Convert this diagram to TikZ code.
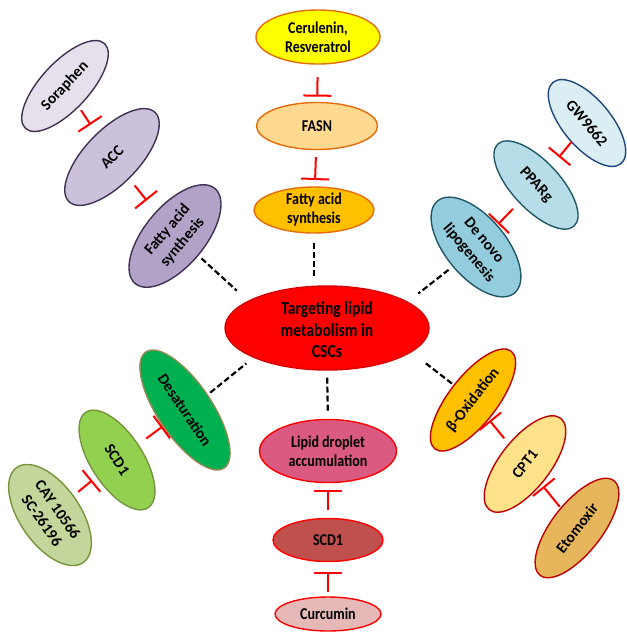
\documentclass[tikz,border=0pt]{standalone}
\usepackage{fontspec}
\usetikzlibrary{shapes.geometric,arrows.meta,calc}
\newfontfamily\hfont{Carlito}[FakeStretch=0.85]
\newfontfamily\rfont{Carlito}
\definecolor{cOrE}{HTML}{E46C0A}
\definecolor{cPurE}{HTML}{403152}
\definecolor{cBluE}{HTML}{1F497D}
\definecolor{cTealE}{HTML}{215968}
\definecolor{cOliE}{HTML}{948A54}
\definecolor{cGrnE}{HTML}{77933C}
\definecolor{cDRed}{HTML}{C00000}
\definecolor{fCer}{HTML}{FFFF00}
\definecolor{fFasn}{HTML}{FFD98F}
\definecolor{fFas}{HTML}{FFC000}
\definecolor{fCen}{HTML}{FF0000}
\definecolor{fSora}{HTML}{E6E0EC}
\definecolor{fAcc}{HTML}{CCC1DA}
\definecolor{fFas2}{HTML}{B3A2C7}
\definecolor{fGw}{HTML}{DBEEF4}
\definecolor{fPpar}{HTML}{B7DEE8}
\definecolor{fDen}{HTML}{93CDDD}
\definecolor{fDes}{HTML}{00B050}
\definecolor{fScdG}{HTML}{92D050}
\definecolor{fCay}{HTML}{C3D69B}
\definecolor{fLip}{HTML}{DA5A82}
\definecolor{fScdR}{HTML}{C0504D}
\definecolor{fCur}{HTML}{E6B9B8}
\definecolor{fBox}{HTML}{FFC000}
\definecolor{fCpt}{HTML}{FFE28A}
\definecolor{fEto}{HTML}{E6B65C}
\tikzset{
  oval/.style={ellipse, draw, line width=1.4pt, inner sep=0pt},
  hlbl/.style={align=center, inner sep=0pt, font=\hfont\bfseries\fontsize{16.5}{19}\selectfont},
  rlbl/.style={align=center, inner sep=0pt, font=\rfont\bfseries\fontsize{15.5}{19.5}\selectfont},
  inh/.style={draw=red, line width=2pt, -{Bar[width=28pt]}},
  dline/.style={draw=black, line width=2.2pt, dash pattern=on 6pt off 3pt},
}
\begin{document}
\begin{tikzpicture}[x=1pt,y=-1pt]
\useasboundingbox (0,0) rectangle (627,633);
% centre
\node[oval, fill=fCen, draw=red!85!black, minimum width=204pt, minimum height=84pt] (cen) at (327,328) {};
\node[hlbl, font=\hfont\bfseries\fontsize{18.4}{21.5}\selectfont] (cen-t) at (327,330) {Targeting lipid\\metabolism in\\CSCs};
% top column
\node[oval, fill=fCer, draw=cOrE, minimum width=124pt, minimum height=54pt] (cer) at (318,37) {};
\node[hlbl] (cer-t) at (cer) {Cerulenin,\\Resveratrol};
\node[oval, fill=fFasn, draw=cOrE, minimum width=121pt, minimum height=47pt] (fasn) at (317,126) {};
\node[hlbl] (fasn-t) at (fasn) {FASN};
\node[oval, fill=fFas, draw=cOrE, minimum width=120pt, minimum height=46pt] (fas1) at (314,210) {};
\node[hlbl] (fas1-t) at (fas1) {Fatty acid\\synthesis};
% top-left column
\node[oval, fill=fSora, draw=cPurE, minimum width=116pt, minimum height=48pt, rotate=47] (sora) at (65,86) {};
\node[rlbl, rotate=47] (sora-t) at (sora) {Soraphen};
\node[oval, fill=fAcc, draw=cPurE, minimum width=124pt, minimum height=54pt, rotate=46] (acc) at (112,157) {};
\node[rlbl, rotate=46] (acc-t) at (acc) {ACC};
\node[oval, fill=fFas2, draw=cPurE, minimum width=124pt, minimum height=60pt, rotate=50] (fas2) at (175,236) {};
\node[rlbl, rotate=50] (fas2-t) at (fas2) {Fatty acid\\synthesis};
% top-right column
\node[oval, fill=fGw, draw=cBluE, minimum width=106pt, minimum height=48pt, rotate=-50] (gw) at (587,123) {};
\node[rlbl, rotate=-50] (gw-t) at (gw) {GW9662};
\node[oval, fill=fPpar, draw=cTealE, minimum width=112pt, minimum height=48pt, rotate=-47] (ppar) at (536,185) {};
\node[rlbl, rotate=-47] (ppar-t) at (ppar) {PPARg};
\node[oval, fill=fDen, draw=cTealE, minimum width=120pt, minimum height=60pt, rotate=-50] (den) at (476,247) {};
\node[rlbl, rotate=-50] (den-t) at (den) {De novo\\lipogenesis};
% bottom-left column
\node[oval, fill=fDes, draw=cOliE, minimum width=140pt, minimum height=54pt, rotate=-56] (des) at (185,410) {};
\node[rlbl, rotate=-56] (des-t) at (des) {Desaturation};
\node[oval, fill=fScdG, draw=cGrnE, minimum width=114pt, minimum height=52pt, rotate=-57] (scdg) at (117,460) {};
\node[rlbl, rotate=-57] (scdg-t) at (scdg) {SCD1};
\node[oval, fill=fCay, draw=cGrnE, minimum width=116pt, minimum height=60pt, rotate=-55] (cay) at (50,515) {};
\node[rlbl, rotate=-55] (cay-t) at (cay) {CAY 10566\\SC-26196};
% bottom column
\node[oval, fill=fLip, draw=red, minimum width=137pt, minimum height=63pt] (lip) at (328,451) {};
\node[hlbl] (lip-t) at (lip) {Lipid droplet\\accumulation};
\node[oval, fill=fScdR, draw=red, minimum width=110pt, minimum height=43pt] (scdr) at (328,540) {};
\node[hlbl] (scdr-t) at (scdr) {SCD1};
\node[oval, fill=fCur, draw=red, minimum width=106pt, minimum height=34pt] (cur) at (328,614) {};
\node[hlbl] (cur-t) at (cur) {Curcumin};
% bottom-right column
\node[oval, fill=fBox, draw=cDRed, minimum width=124pt, minimum height=48pt, rotate=52] (box) at (473,400) {};
\node[rlbl, rotate=52] (box-t) at (box) {β-Oxidation};
\node[oval, fill=fCpt, draw=cDRed, minimum width=116pt, minimum height=50pt, rotate=52] (cpt) at (525,464) {};
\node[rlbl, rotate=52] (cpt-t) at (cpt) {CPT1};
\node[oval, fill=fEto, draw=cDRed, minimum width=120pt, minimum height=50pt, rotate=52] (eto) at (577,528) {};
\node[rlbl, rotate=52] (eto-t) at (eto) {Etomoxir};
% inhibitions
\draw[inh] ($(cer)!0.45!(fasn)$) -- ($(cer)!0.67!(fasn)$);
\draw[inh] ($(fasn)!0.37!(fas1)$) -- ($(fasn)!0.643!(fas1)$);
\draw[inh] ($(sora)!0.34!(acc)$) -- ($(sora)!0.545!(acc)$);
\draw[inh] ($(acc)!0.36!(fas2)$) -- ($(acc)!0.55!(fas2)$);
\draw[inh] ($(gw)!0.3!(ppar)$) -- ($(gw)!0.55!(ppar)$);
\draw[inh] ($(ppar)!0.385!(den)$) -- ($(ppar)!0.63!(den)$);
\draw[inh] ($(scdg)!0.43!(des)$) -- ($(scdg)!0.67!(des)$);
\draw[inh] ($(cay)!0.42!(scdg)$) -- ($(cay)!0.63!(scdg)$);
\draw[inh] ($(cpt)!0.4!(box)$) -- ($(cpt)!0.68!(box)$);
\draw[inh] ($(eto)!0.33!(cpt)$) -- ($(eto)!0.65!(cpt)$);
\draw[inh] ($(scdr)!0.337!(lip)$) -- ($(scdr)!0.562!(lip)$);
\draw[inh] ($(cur)!0.297!(scdr)$) -- ($(cur)!0.568!(scdr)$);
% dashed links
\draw[dline, shorten <=9pt, shorten >=8pt] (fas1.south) -- (fas1.south |- cen.north);
\draw[dline, shorten <=7pt, shorten >=8pt] (cen.south) -- (lip.north);
\draw[dline, shorten <=4pt, shorten >=15pt] (fas2.south) -- (cen.161);
\draw[dline, shorten <=5pt, shorten >=13pt] (den.south) -- (cen.18);
\draw[dline, shorten <=3pt, shorten >=9pt] (des.north) -- (cen.202);
\draw[dline, shorten <=2pt, shorten >=16pt] (box.north) -- (cen.-16);
\end{tikzpicture}
\end{document}
